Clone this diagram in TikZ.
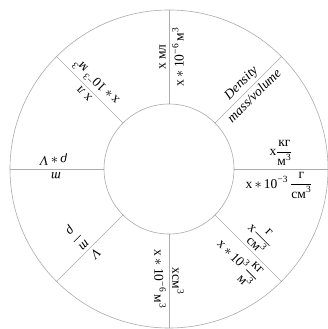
\documentclass[tikz,border=0pt]{standalone}
\usepackage{amsmath}
\usepackage{fontspec}
\setmainfont{Liberation Serif}
\newcommand{\sps}[1]{\textsuperscript{#1}}
\newcommand{\tfr}[2]{$\dfrac{\text{#1}}{\text{#2}}$}
\tikzset{
  ring/.style={draw=gray!65, line width=0.6pt},
  lbl/.style={font=\fontsize{13.5}{15}\selectfont, inner sep=3pt, text=black},
  upl/.style={lbl, anchor=south},
  dnl/.style={lbl, anchor=north}
}
\begin{document}
\begin{tikzpicture}[x=1pt,y=1pt]
\useasboundingbox (-169,-160) rectangle (158,169);
\fill[white] (-169,-160) rectangle (158,169);
\coordinate (c) at (0,0);
\draw[ring] (c) circle (159);
\draw[ring] (c) circle (65);
\foreach \a in {0,45,...,315}{
  \coordinate (i\a) at (\a:65);
  \coordinate (o\a) at (\a:159);
  \draw[ring] (i\a) -- (o\a);
}
% 90
\node[upl, rotate=90] (a1) at (90:112) {x мл};
\node[dnl, rotate=90] (a2) at (90:112) {x\,$\ast$\,10\sps{−6}\,м\sps{3}};
% 45
\node[upl, rotate=45] (b1) at (45:112) {\textit{Density}};
\node[dnl, rotate=45] (b2) at (45:112) {\textit{mass/volume}};
% 0
\node[upl] (c1) at (0:112) {x\tfr{кг}{м\sps{3}}};
\node[dnl] (c2) at (0:110) {x\,$\ast$\,10\sps{−3}\,\tfr{г}{см\sps{3}}};
% -45
\node[upl, rotate=-45] (d1) at (-45:112) {x\tfr{г}{см\sps{3}}};
\node[dnl, rotate=-45, inner sep=4pt] (d2) at (-45:114) {x\,$\ast$\,10\sps{3}\tfr{кг}{м\sps{3}}};
% -90
\node[upl, rotate=-90] (e1) at (-90:112) {xсм\sps{3}};
\node[dnl, rotate=-90] (e2) at (-90:110) {x\,$\ast$\,10\sps{−6}\,м\sps{3}};
% 225
\node[upl, rotate=225] (f1) at (225:112) {\textit{V}};
\node[dnl, rotate=225] (f2) at (225:114) {$\dfrac{\textit{m}}{\textit{ρ}}$};
% 180
\node[upl, rotate=180] (g1) at (180:113) {\textit{m}};
\node[dnl, rotate=180] (g2) at (180:116) {\textit{ρ}\,$\ast$\,\textit{V}};
% 135
\node[upl, rotate=135] (h1) at (135:113) {x л};
\node[dnl, rotate=135] (h2) at (135:113) {x\,$\ast$\,10\sps{−3}\,м\sps{3}};
\end{tikzpicture}
\end{document}
